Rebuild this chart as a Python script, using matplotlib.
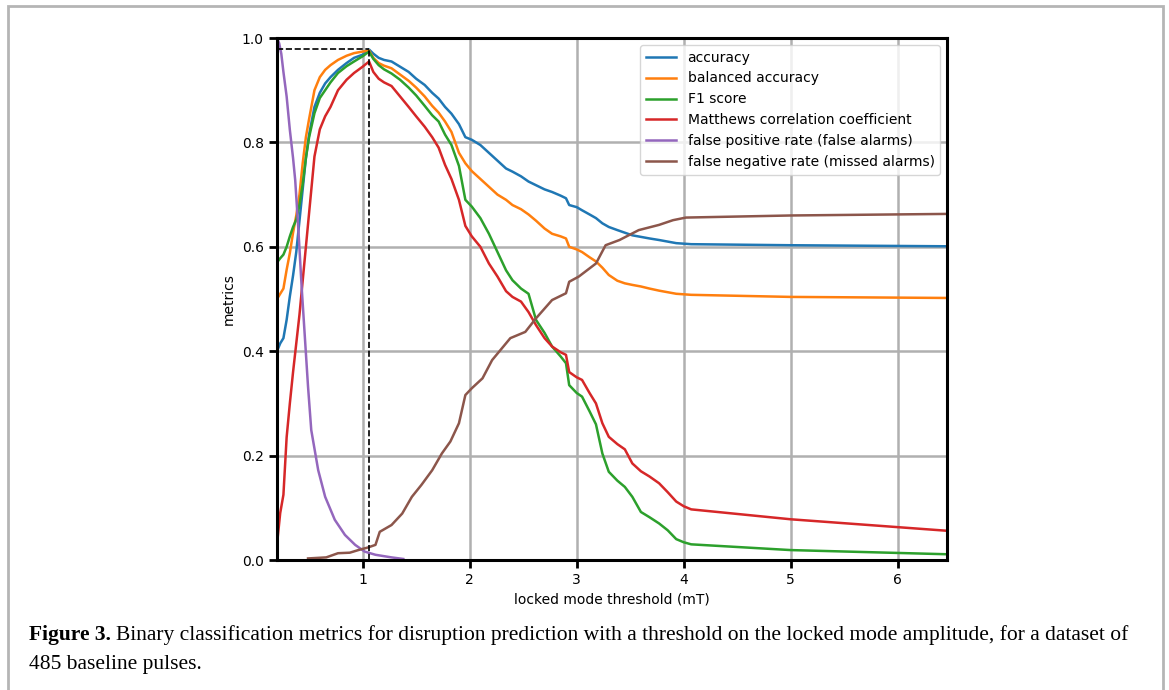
import matplotlib
matplotlib.use("Agg")
import matplotlib.pyplot as plt
import numpy as np
from matplotlib.patches import Rectangle

# threshold grid (mT) shared by the first four metrics
thr = [0.20, 0.23, 0.26, 0.29, 0.32, 0.35, 0.38, 0.41, 0.44, 0.47, 0.50, 0.55,
       0.60, 0.65, 0.70, 0.77, 0.85, 0.92, 1.00, 1.06, 1.10, 1.15, 1.20, 1.27,
       1.35, 1.43, 1.50, 1.58, 1.65, 1.71, 1.77, 1.83, 1.90, 1.96, 2.02, 2.10,
       2.18, 2.26, 2.34, 2.40, 2.48, 2.55, 2.62, 2.70, 2.77, 2.85, 2.90, 2.93,
       3.00, 3.05, 3.12, 3.18, 3.24, 3.30, 3.38, 3.45, 3.52, 3.60, 3.68, 3.77,
       3.85, 3.93, 4.00, 4.07, 5.00, 6.46]

accuracy = [0.400, 0.415, 0.425, 0.460, 0.505, 0.545, 0.590, 0.650, 0.710, 0.770, 0.815, 0.868,
            0.895, 0.913, 0.925, 0.939, 0.952, 0.962, 0.968, 0.978, 0.970, 0.962, 0.958, 0.955,
            0.945, 0.935, 0.922, 0.910, 0.895, 0.884, 0.868, 0.855, 0.835, 0.810, 0.805, 0.795,
            0.780, 0.765, 0.750, 0.744, 0.735, 0.725, 0.718, 0.710, 0.705, 0.698, 0.693, 0.680,
            0.676, 0.670, 0.662, 0.655, 0.645, 0.638, 0.632, 0.627, 0.622, 0.619, 0.616, 0.613,
            0.610, 0.607, 0.606, 0.605, 0.603, 0.601]

balanced = [0.500, 0.510, 0.520, 0.556, 0.588, 0.627, 0.660, 0.700, 0.760, 0.810, 0.845, 0.900,
            0.925, 0.939, 0.948, 0.958, 0.966, 0.971, 0.974, 0.976, 0.962, 0.952, 0.947, 0.942,
            0.930, 0.918, 0.905, 0.888, 0.870, 0.857, 0.840, 0.820, 0.780, 0.760, 0.745, 0.730,
            0.715, 0.700, 0.690, 0.680, 0.672, 0.662, 0.650, 0.635, 0.625, 0.620, 0.616, 0.600,
            0.595, 0.590, 0.580, 0.572, 0.560, 0.546, 0.535, 0.530, 0.527, 0.524, 0.520, 0.516,
            0.513, 0.510, 0.509, 0.508, 0.504, 0.502]

f1 = [0.570, 0.578, 0.585, 0.600, 0.620, 0.638, 0.652, 0.680, 0.720, 0.770, 0.810, 0.856,
      0.885, 0.900, 0.915, 0.933, 0.946, 0.955, 0.965, 0.974, 0.960, 0.948, 0.940, 0.932,
      0.920, 0.905, 0.890, 0.870, 0.852, 0.840, 0.815, 0.795, 0.755, 0.690, 0.677, 0.655,
      0.625, 0.590, 0.555, 0.536, 0.520, 0.510, 0.460, 0.435, 0.409, 0.390, 0.377, 0.335,
      0.320, 0.313, 0.285, 0.260, 0.204, 0.169, 0.152, 0.140, 0.121, 0.092, 0.082, 0.070,
      0.057, 0.040, 0.034, 0.030, 0.019, 0.011]

mcc = [0.030, 0.090, 0.125, 0.235, 0.300, 0.360, 0.415, 0.470, 0.535, 0.600, 0.665, 0.773,
       0.825, 0.850, 0.868, 0.900, 0.920, 0.933, 0.945, 0.955, 0.935, 0.922, 0.915, 0.908,
       0.888, 0.868, 0.850, 0.830, 0.810, 0.790, 0.757, 0.730, 0.690, 0.640, 0.620, 0.600,
       0.568, 0.543, 0.515, 0.504, 0.495, 0.475, 0.450, 0.425, 0.409, 0.398, 0.393, 0.360,
       0.350, 0.345, 0.320, 0.300, 0.262, 0.236, 0.222, 0.212, 0.185, 0.170, 0.160, 0.147,
       0.130, 0.112, 0.103, 0.097, 0.078, 0.056]

# false positive rate has its own threshold points
thr_fpr = [0.20, 0.22, 0.24, 0.26, 0.29, 0.32, 0.35, 0.37, 0.40, 0.43, 0.46, 0.49,
           0.52, 0.585, 0.65, 0.74, 0.835, 0.93, 1.02, 1.12, 1.27, 1.38]
fpr = [1.000, 0.990, 0.970, 0.935, 0.888, 0.824, 0.770, 0.728, 0.632, 0.524, 0.428, 0.332,
       0.249, 0.172, 0.121, 0.077, 0.048, 0.029, 0.016, 0.010, 0.005, 0.002]

# false negative rate
thr_fnr = [0.49, 0.66, 0.77, 0.88, 0.96, 1.05, 1.12, 1.16, 1.27, 1.37, 1.46, 1.55,
           1.65, 1.74, 1.82, 1.90, 1.96, 2.02, 2.12, 2.21, 2.38, 2.52, 2.62, 2.77,
           2.90, 2.93, 3.02, 3.18, 3.27, 3.40, 3.58, 3.77, 3.90, 4.02, 5.00, 6.46]
fnr = [0.003, 0.005, 0.013, 0.014, 0.019, 0.024, 0.029, 0.054, 0.067, 0.089, 0.121, 0.144,
       0.172, 0.204, 0.227, 0.262, 0.316, 0.329, 0.348, 0.383, 0.425, 0.437, 0.463, 0.498,
       0.511, 0.533, 0.543, 0.568, 0.603, 0.613, 0.632, 0.642, 0.651, 0.656, 0.660, 0.663]

best_thr = 1.063
best_acc = 0.978

labels = ['accuracy', 'balanced accuracy', 'F1 score', 'Matthews correlation coefficient',
          'false positive rate (false alarms)', 'false negative rate (missed alarms)']

fig = plt.figure(figsize=(11.69, 6.90), dpi=100)
ax = fig.add_axes([277/1169, 1 - 560/690, (947-277)/1169, (560-38)/690])

lw = 1.8
ax.plot(thr, accuracy, color='tab:blue', lw=lw, label=labels[0])
ax.plot(thr, balanced, color='tab:orange', lw=lw, label=labels[1])
ax.plot(thr, f1, color='tab:green', lw=lw, label=labels[2])
ax.plot(thr, mcc, color='tab:red', lw=lw, label=labels[3])
ax.plot(thr_fpr, fpr, color='tab:purple', lw=lw, label=labels[4])
ax.plot(thr_fnr, fnr, color='tab:brown', lw=lw, label=labels[5])

# best threshold markers
ax.plot([best_thr, best_thr], [0, best_acc], 'k--', lw=1.2)
ax.plot([thr[0], best_thr], [best_acc, best_acc], 'k--', lw=1.2)

ax.set_xlim(thr[0], thr[-1])
ax.set_ylim(0, 1.0)
ax.grid(True, color='#b0b0b0', lw=1.8)
ax.set_axisbelow(True)
for s in ax.spines.values():
    s.set_linewidth(2.2)
ax.tick_params(width=2, length=6, labelsize=10)
ax.set_xlabel('locked mode threshold (mT)', fontsize=10)
ax.set_ylabel('metrics', fontsize=10)
ax.legend(loc='upper right', fontsize=10, handlelength=2.2)

# caption below the plot
cap_font = 'Liberation Serif'
cap_size = 15.5
t1 = fig.text(29/1169, 1 - 640/690, 'Figure 3.', fontsize=cap_size, fontweight='bold',
              family=cap_font, va='baseline')
fig.canvas.draw()
bb = t1.get_window_extent(fig.canvas.get_renderer())
fig.text(bb.x1/1169 + 5/1169, 1 - 640/690,
         'Binary classification metrics for disruption prediction with a threshold on the locked mode amplitude, for a dataset of',
         fontsize=cap_size, family=cap_font, va='baseline')
fig.text(29/1169, 1 - 669/690, '485 baseline pulses.', fontsize=cap_size, family=cap_font, va='baseline')

# page frame
fig.patches.append(Rectangle((8/1169, -0.1), (1163-8)/1169, 1.1 - 6/690,
                             transform=fig.transFigure, fill=False,
                             edgecolor='#b5b5b5', lw=2))

fig.savefig('out.png', dpi=100)
